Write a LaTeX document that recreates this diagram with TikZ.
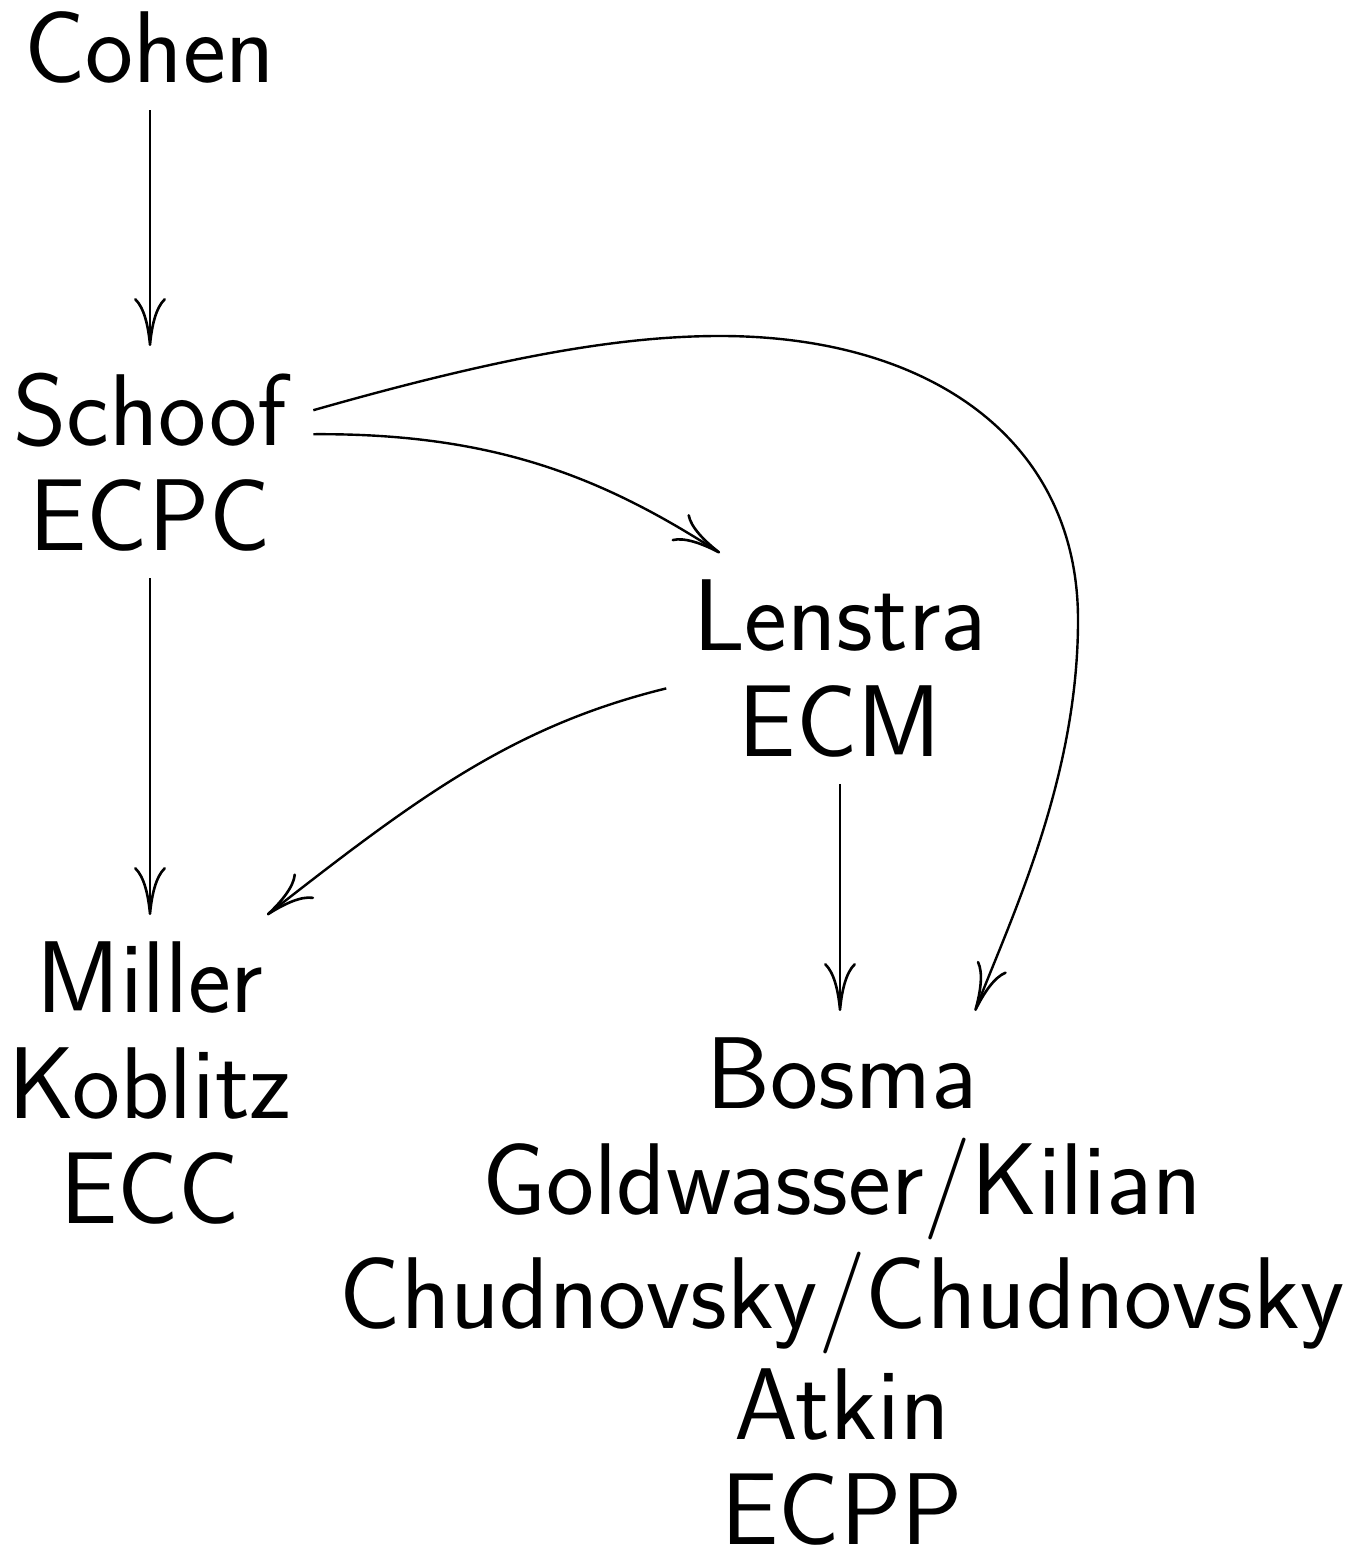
\documentclass[tikz,border=0pt]{standalone}
\usetikzlibrary{arrows.meta}
\begin{document}
\begin{tikzpicture}[x=0.25pt,y=-0.25pt,
  lbl/.style={anchor=north,align=center,inner sep=6.5pt,
    font=\sffamily\fontsize{25.5}{26.4}\selectfont},
  arr/.style={line width=0.6pt,
    -{Computer Modern Rightarrow[length=12pt,width=8pt,line width=0.65pt]}}]
\useasboundingbox (0,0) rectangle (1361,1548);
\node[lbl] (cohen) at (150,-15) {Cohen};
\node[lbl] (schoof) at (150,346) {Schoof\\ECPC};
\node[lbl] (lenstra) at (840,553) {Lenstra\\ECM};
\node[lbl] (miller) at (150,915) {Miller\\Koblitz\\ECC};
\node[lbl] (bosma) at (842,1011) {Bosma\\Goldwasser/Kilian\\[2.1pt]Chudnovsky/Chudnovsky\\[1.35pt]Atkin\\ECPP};
\draw[arr] (cohen.south) -- (schoof.north);
\draw[arr] (schoof.south) -- (miller.north);
\draw[arr] (lenstra.south) -- ([xshift=-0.5pt]bosma.north);
\draw[arr] ([yshift=7pt]schoof.east) .. controls (493,433) and (602,477) .. ([xshift=-30pt]lenstra.north);
\draw[arr] ([yshift=13pt]schoof.east) .. controls (500,357) and (620,336) .. (720,336)
   .. controls (930,336) and (1078,440) .. (1078,620)
   .. controls (1078,780) and (1010,920) .. ([xshift=33.25pt]bosma.north);
\draw[arr] ([yshift=-5pt]lenstra.west) .. controls (513,726) and (418,797) .. ([xshift=29.25pt]miller.north);
\end{tikzpicture}
\end{document}
